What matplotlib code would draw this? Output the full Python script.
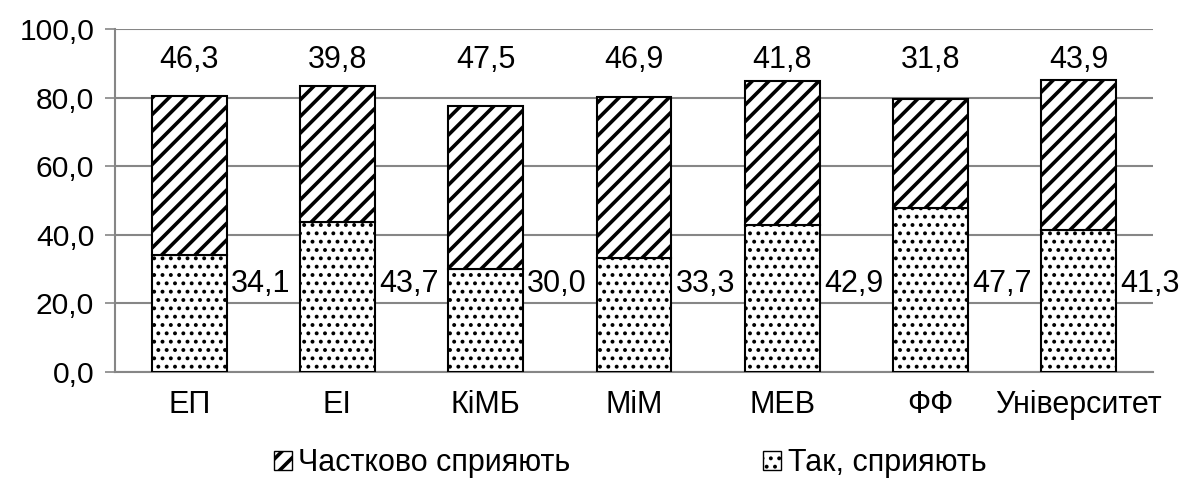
import matplotlib
matplotlib.use("Agg")
import matplotlib.pyplot as plt
import numpy as np

categories = ["ЕП", "ЕІ", "КіМБ", "МіМ", "МЕВ", "ФФ", "Університет"]
yes_vals = [34.1, 43.7, 30.0, 33.3, 42.9, 47.7, 41.3]
partly_vals = [46.3, 39.8, 47.5, 46.9, 41.8, 31.8, 43.9]
series_names = ["Частково сприяють", "Так, сприяють"]

FS = 22
GRID = "#868686"
DOT_LW = 1.6
LINE_LW = 2.6

plt.rcParams["font.family"] = ["Liberation Sans", "DejaVu Sans"]
plt.rcParams["hatch.color"] = "black"


def fmt(v):
    return f"{v:.1f}".replace(".", ",")


def main():
    fig = plt.figure(figsize=(11.87, 4.79), dpi=100)
    ax = fig.add_axes([115 / 1187, 1 - 372 / 479, 1038 / 1187, 343 / 479])

    x = np.arange(len(categories))
    w = 0.505
    b1 = ax.bar(x, yes_vals, w, color="white", edgecolor="black",
                linewidth=1.5, hatch="..", zorder=3, label=series_names[1])
    b2 = ax.bar(x, partly_vals, w, bottom=yes_vals, color="white",
                edgecolor="black", linewidth=1.5, hatch="//", zorder=3,
                label=series_names[0])
    for p in b1:
        p.set_hatch_linewidth(DOT_LW)
    for p in b2:
        p.set_hatch_linewidth(LINE_LW)

    # value labels
    for i in range(len(categories)):
        ax.text(x[i] + 0.48, 25.7, fmt(yes_vals[i]), ha="center", va="center",
                fontsize=FS, zorder=4, clip_on=False,
                bbox=dict(boxstyle="square,pad=0.05", fc="white", ec="none"))
        ax.text(x[i], 91, fmt(partly_vals[i]), ha="center", va="center",
                fontsize=FS, zorder=4)

    ax.set_xlim(-0.5, len(categories) - 0.5)
    ax.set_ylim(0, 100)
    ax.set_yticks(np.arange(0, 101, 20))
    ax.set_yticklabels([fmt(v) for v in np.arange(0, 101, 20)])
    ax.set_xticks(x)
    ax.set_xticklabels(categories)
    ax.tick_params(axis="x", length=0, labelsize=FS, pad=13)
    ax.tick_params(axis="y", length=7, color=GRID, width=1.2, labelsize=21.6, pad=8)
    ax.yaxis.grid(True, color=GRID, linewidth=1.5, zorder=0)
    ax.set_axisbelow(True)
    for s in ["top", "right"]:
        ax.spines[s].set_visible(False)
    for s in ["left", "bottom"]:
        ax.spines[s].set_color(GRID)
        ax.spines[s].set_linewidth(1.5)

    leg = fig.legend(handles=[b2, b1], labels=series_names, loc="center",
                     bbox_to_anchor=(630 / 1187, 1 - 463 / 479), ncol=2,
                     frameon=False, fontsize=FS, handlelength=0.6,
                     handleheight=0.6, handletextpad=0.2, columnspacing=6.3)
    hs = leg.legend_handles
    hs[0].set_linewidth(1.0)
    hs[0].set_hatch_linewidth(LINE_LW)
    hs[1].set_linewidth(1.0)
    hs[1].set_hatch_linewidth(DOT_LW)

    fig.savefig("out.png", dpi=100)


if __name__ == "__main__":
    main()
